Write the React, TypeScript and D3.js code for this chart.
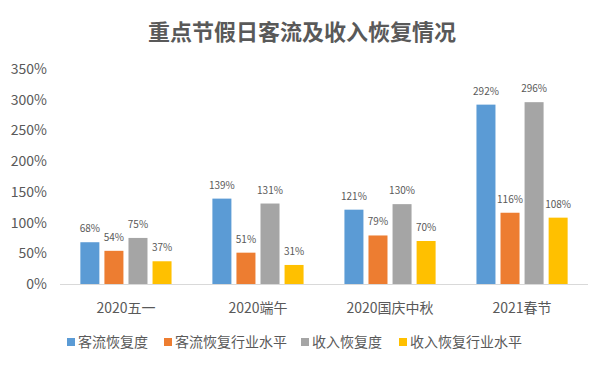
import { useEffect, useRef } from 'react';
import * as d3 from 'd3';

const CATEGORIES = ['2020五一', '2020端午', '2020国庆中秋', '2021春节'];
const SERIES = ['客流恢复度', '客流恢复行业水平', '收入恢复度', '收入恢复行业水平'];
const COLORS = ['#5B9BD5', '#ED7D31', '#A5A5A5', '#FFC000'];
const VALUES = [
  [68, 54, 75, 37],
  [139, 51, 131, 31],
  [121, 79, 130, 70],
  [292, 116, 296, 108],
];
const TICKS = [0, 50, 100, 150, 200, 250, 300, 350];

const W = 605, H = 365;
const M = { top: 69, right: 17, bottom: 81, left: 60 };
const FONT = '"Noto Sans CJK SC", "Microsoft YaHei", sans-serif';
const TXT = '#595959';

export default function App() {
  const ref = useRef<SVGSVGElement>(null);
  useEffect(() => {
    const svg = d3.select(ref.current); svg.selectAll('*').remove();
    svg.attr('width', W).attr('height', H).style('font-family', FONT);
    const x0 = d3.scaleBand().domain(CATEGORIES).range([M.left, W - M.right]).paddingInner(0.273).paddingOuter(0.136);
    const x1 = d3.scaleBand().domain(SERIES).range([0, x0.bandwidth()]).paddingInner(0.21).paddingOuter(0.1);
    const y = d3.scaleLinear().domain([0, 350]).range([H - M.bottom, M.top]);

    svg.append('text').attr('x', 302).attr('y', 40).attr('text-anchor', 'middle')
      .attr('fill', TXT).attr('font-size', 22).attr('font-weight', 'bold').text('重点节假日客流及收入恢复情况');

    svg.append('g').selectAll('text').data(TICKS).join('text')
      .attr('x', 47).attr('y', d => y(d) + 5).attr('text-anchor', 'end')
      .attr('fill', TXT).attr('font-size', 14).text(d => `${d}%`);

    svg.append('line').attr('x1', M.left).attr('x2', W - M.right)
      .attr('y1', y(0) + 0.5).attr('y2', y(0) + 0.5).attr('stroke', '#D9D9D9').attr('stroke-width', 1);

    const g = svg.append('g').selectAll('g').data(CATEGORIES).join('g')
      .attr('transform', c => `translate(${x0(c)},0)`);
    g.selectAll('rect').data((_, i) => VALUES[i].map((v, j) => ({ s: SERIES[j], v, j }))).join('rect')
      .attr('x', d => x1(d.s)!).attr('width', x1.bandwidth())
      .attr('y', d => y(d.v)).attr('height', d => y(0) - y(d.v)).attr('fill', d => COLORS[d.j]);
    g.selectAll('text').data((_, i) => VALUES[i].map((v, j) => ({ s: SERIES[j], v, j }))).join('text')
      .attr('x', d => x1(d.s)! + x1.bandwidth() / 2).attr('y', d => y(d.v) - 10)
      .attr('text-anchor', 'middle').attr('fill', TXT).attr('font-size', 10).text(d => `${d.v}%`);

    svg.append('g').selectAll('text').data(CATEGORIES).join('text')
      .attr('x', c => x0(c)! + x0.bandwidth() / 2).attr('y', 313).attr('text-anchor', 'middle')
      .attr('fill', TXT).attr('font-size', 14).text(c => c);

    const LX = [67, 164, 301, 399];
    const lg = svg.append('g').selectAll('g').data(SERIES).join('g')
      .attr('transform', (_, i) => `translate(${LX[i]},342)`);
    lg.append('rect').attr('x', 0).attr('y', -4).attr('width', 8).attr('height', 8).attr('fill', (_, i) => COLORS[i]);
    lg.append('text').attr('x', 11).attr('y', 5).attr('fill', TXT).attr('font-size', 14).text(d => d);
  }, []);
  return <svg ref={ref} style={{ position: 'absolute', left: 0, top: 0 }} />;
}
